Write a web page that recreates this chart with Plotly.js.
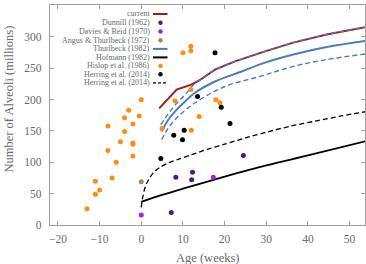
<!DOCTYPE html>
<html>
<head>
<meta charset="utf-8">
<script src="https://cdn.plot.ly/plotly-3.0.1.min.js"></script>
<style>html,body{margin:0;padding:0;background:#fff;}#chart{width:366px;height:264px;}</style>
</head>
<body>
<div id="chart"></div>
<script>
// ---- data ----
const currentX = [4.3, 8.5, 12, 14, 17.7, 22.5, 29.7, 36.5, 44.5, 54];
const currentY = [186, 216, 224, 231, 248, 261, 277, 291, 304, 316];

const thurlbeckX = [4.9, 6.5, 8.5, 10, 12.9, 17.7, 24.1, 29.7, 36.5, 44.5, 54];
const thurlbeckY = [149, 168, 184, 194, 211, 229, 245, 259, 272, 284, 294];
const thurlbeckUpX = [4.7, 6.5, 8.5, 10.5, 12.9, 14, 17.7, 22.5, 29.7, 36.5, 44.5, 54];
const thurlbeckUpY = [160, 178, 194, 208, 226, 231, 248, 261, 277, 291, 304, 316];
const thurlbeckLoX = [4.9, 6.5, 8.1, 10, 12.9, 20.1, 28.5, 36.5, 44.5, 54];
const thurlbeckLoY = [136, 155, 168, 180, 195, 221, 237, 253, 264, 273];

const hofmannX = [0, 5, 10, 20, 30, 40, 54];
const hofmannY = [37, 48, 58, 77, 95, 111, 134];

const herringCurveX = [0, 0.3, 0.7, 1.2, 2, 3, 4.5, 6.5, 9, 12, 16, 20, 25, 30, 36, 42, 48, 54];
const herringCurveY = [28, 42, 55, 65, 75, 84, 92, 99, 105, 112, 121, 129, 139, 148, 158, 166, 174, 181];

const dunnillX = [7.2, 8.3, 12.1, 12.3, 24.5];
const dunnillY = [20, 76, 72, 84, 111];
const daviesX = [0, 17.3];
const daviesY = [16, 76];
const angusX = [0];
const angusY = [69];

const hislopX = [-13, -11, -10, -11, -7, -6, -8, -2, -2, -2, -5, -8, -4, -4, -2, -3, -0.5, 0, 5, 8.1, 10, 11.9, 11.9, 11.9, 12, 13.9, 17.9, 18.9];
const hislopY = [26, 49, 56, 70, 75, 100, 119, 110, 129, 131, 133, 158, 149, 171, 161, 183, 174, 200, 154, 198, 275, 285, 278, 216, 151, 173, 200, 195];

const herringX = [4.7, 7.8, 9.9, 10.3, 13.5, 17.7, 19.2, 21.3];
const herringY = [106, 143, 136, 151, 205, 275, 188, 162];

const xTicks = [-20, -10, 0, 10, 20, 30, 40, 50];
const xTickText = ["\u221220", "\u221210", "0", "10", "20", "30", "40", "50"];
const yTicks = [0, 50, 100, 150, 200, 250, 300, 350];

const legendNames = ["current", "Dunnill (1962)", "Davies & Reid (1970)", "Angus & Thurlbeck (1972)",
  "Thurlbeck (1982)", "Hofmann (1982)", "Hislop et al. (1986)", "Herring et al. (2014)", "Herring et al. (2014)"];

// ---- styles ----
const RED = '#a31c1c', BLUE = '#4a7bc0', ORANGE = '#ff8a14', BLACK = '#000000',
      DUN = '#4b1a8a', DAV = '#a020e8', ANG = '#9c8f50';
const FONT = 'Liberation Serif, DejaVu Serif, serif';
const GRAY = '#6a6a6a';
const DASH = '5px,3px';

const traces = [
  {x: currentX, y: currentY, mode: 'lines', line: {color: RED, width: 2}},
  {x: thurlbeckX, y: thurlbeckY, mode: 'lines', line: {color: BLUE, width: 2, shape: 'spline'}},
  {x: thurlbeckUpX, y: thurlbeckUpY, mode: 'lines', line: {color: BLUE, width: 1.4, dash: DASH, shape: 'spline'}},
  {x: thurlbeckLoX, y: thurlbeckLoY, mode: 'lines', line: {color: BLUE, width: 1.4, dash: DASH, shape: 'spline'}},
  {x: hofmannX, y: hofmannY, mode: 'lines', line: {color: BLACK, width: 1.8, shape: 'spline'}},
  {x: herringCurveX, y: herringCurveY, mode: 'lines', line: {color: BLACK, width: 1.3, dash: DASH, shape: 'spline', smoothing: 0.8}},
  {x: hislopX, y: hislopY, mode: 'markers', marker: {color: ORANGE, size: 5}},
  {x: herringX, y: herringY, mode: 'markers', marker: {color: BLACK, size: 5}},
  {x: dunnillX, y: dunnillY, mode: 'markers', marker: {color: DUN, size: 5}},
  {x: daviesX, y: daviesY, mode: 'markers', marker: {color: DAV, size: 5}},
  {x: angusX, y: angusY, mode: 'markers', marker: {color: ANG, size: 5}}
];

// ---- custom legend (symbols right of text) ----
const L = 50, W = 315, T = 5, H = 220;
const px2x = p => (p - L) / W;
const py2y = p => 1 - (p - T) / H;
const legY = [14, 22.7, 31.5, 40.2, 48.9, 57.4, 65.9, 74.3, 82.8];
const legSym = [
  {type: 'line', color: RED, width: 2},
  {type: 'dot', color: DUN},
  {type: 'dot', color: DAV},
  {type: 'dot', color: ANG},
  {type: 'line', color: BLUE, width: 2},
  {type: 'line', color: BLACK, width: 2},
  {type: 'dot', color: ORANGE},
  {type: 'dot', color: BLACK},
  {type: 'line', color: BLACK, width: 1.3, dash: '3px,2px'}
];
const annotations = [];
const shapes = [];
legendNames.forEach((name, i) => {
  annotations.push({
    xref: 'paper', yref: 'paper', x: px2x(150.5), y: py2y(legY[i]),
    xanchor: 'right', yanchor: 'middle', showarrow: false, text: name,
    borderpad: 0,
    font: {family: FONT, size: 8, color: GRAY}
  });
  const s = legSym[i];
  if (s.type === 'line') {
    shapes.push({type: 'line', xref: 'paper', yref: 'paper',
      x0: px2x(153), x1: px2x(167.5), y0: py2y(legY[i]), y1: py2y(legY[i]),
      line: {color: s.color, width: s.width, dash: s.dash || 'solid'}});
  } else {
    const r = 2.2;
    shapes.push({type: 'circle', xref: 'paper', yref: 'paper',
      x0: px2x(160.5 - r), x1: px2x(160.5 + r), y0: py2y(legY[i] - r), y1: py2y(legY[i] + r),
      fillcolor: s.color, line: {width: 0}});
  }
});

// axis titles
annotations.push({xref: 'paper', yref: 'paper', x: 0.5, y: py2y(257.5), xanchor: 'center', yanchor: 'middle',
  showarrow: false, text: 'Age (weeks)', font: {family: FONT, size: 12.5, color: GRAY}});
annotations.push({xref: 'paper', yref: 'paper', x: px2x(8.5), y: py2y(99), xanchor: 'center', yanchor: 'middle',
  showarrow: false, textangle: -90, text: 'Number of Alveoli (millions)', font: {family: FONT, size: 12.5, color: GRAY}});

const axisCommon = {
  showgrid: false, zeroline: false, showline: true, mirror: 'ticks',
  linecolor: '#a0a0a0', linewidth: 1.2, ticks: 'inside', ticklen: 4, tickwidth: 1,
  tickcolor: '#a0a0a0', tickfont: {family: FONT, size: 11.5, color: GRAY}
};

const layout = {
  width: 366, height: 264,
  margin: {l: L, r: 1, t: T, b: 39},
  paper_bgcolor: '#fff', plot_bgcolor: '#fff',
  showlegend: false,
  xaxis: Object.assign({}, axisCommon, {range: [-21.9, 53.7], tickmode: 'array', tickvals: xTicks, ticktext: xTickText, ticklabelstandoff: 3}),
  yaxis: Object.assign({}, axisCommon, {range: [0, 351], tickmode: 'array', tickvals: yTicks, ticklabelstandoff: 5}),
  annotations: annotations,
  shapes: shapes
};

Plotly.newPlot('chart', traces, layout, {staticPlot: true, displayModeBar: false});
</script>
</body>
</html>
